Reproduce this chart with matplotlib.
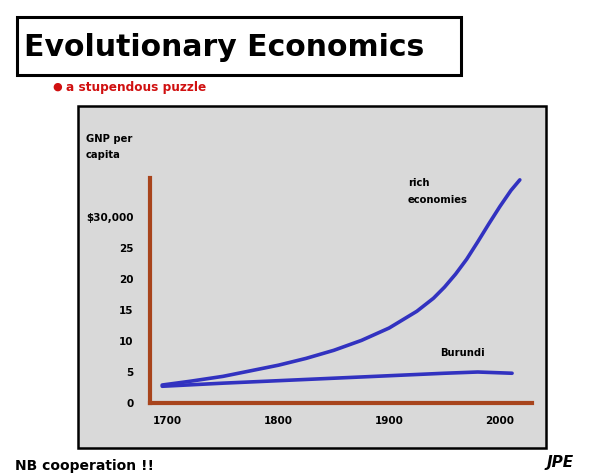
import matplotlib
matplotlib.use("Agg")
import matplotlib.pyplot as plt
from matplotlib.patches import Rectangle

# --- Colours ---
AXIS_BROWN = "#a8441c"
CURVE_BLUE = "#3232c0"
PANEL_GREY = "#d9d9d9"
TEXT_RED = "#d01010"

# --- Data ---
rich_years = [1695, 1720, 1750, 1775, 1800, 1825, 1850, 1875, 1900, 1925, 1940,
              1950, 1960, 1970, 1980, 1990, 2000, 2010, 2018]
rich_gnp = [2.9, 3.5, 4.3, 5.2, 6.1, 7.2, 8.5, 10.1, 12.1, 14.8, 16.9,
            18.7, 20.8, 23.2, 26.0, 28.9, 31.7, 34.3, 36.0]

burundi_years = [1695, 1750, 1800, 1850, 1900, 1950, 1980, 2011]
burundi_gnp = [2.7, 3.2, 3.6, 4.0, 4.4, 4.8, 5.0, 4.8]

x_ticks = [1700, 1800, 1900, 2000]
y_ticks = [0, 5, 10, 15, 20, 25, 30]
y_tick_labels = ["0", "5", "10", "15", "20", "25", "$30,000"]

W, H = 592, 475
fig = plt.figure(figsize=(W / 100, H / 100), dpi=100)


def fx(px):
    return px / W


def fy(py):
    return 1 - py / H


# title box
fig.patches.append(Rectangle((fx(17), fy(75)), fx(461) - fx(17), fy(17) - fy(75),
                             transform=fig.transFigure, fill=False,
                             edgecolor="black", linewidth=2.2, zorder=-1))
fig.text(fx(24), fy(47), "Evolutionary Economics", fontsize=21.5, fontweight="bold",
         ha="left", va="center")

# subtitle
fig.text(fx(57), fy(87), "\u25CF", color=TEXT_RED, fontsize=8, ha="center", va="center")
fig.text(fx(66), fy(87), "a stupendous puzzle", color=TEXT_RED, fontsize=8.7,
         fontweight="bold", ha="left", va="center")

# grey panel behind the chart
fig.patches.append(Rectangle((fx(78), fy(448)), fx(546) - fx(78), fy(106) - fy(448),
                             transform=fig.transFigure, facecolor=PANEL_GREY,
                             edgecolor="black", linewidth=1.8, zorder=-1))

# chart axes
ax = fig.add_axes([fx(150), fy(403), fx(532) - fx(150), fy(178) - fy(403)])
ax.set_zorder(2)
ax.patch.set_visible(False)
ax.plot(rich_years, rich_gnp, color=CURVE_BLUE, linewidth=2.6, solid_capstyle="round")
ax.plot(burundi_years, burundi_gnp, color=CURVE_BLUE, linewidth=2.6, solid_capstyle="round")

ax.set_xlim(1684, 2029)
ax.set_ylim(0, 36.3)
for side in ["top", "right"]:
    ax.spines[side].set_visible(False)
for side in ["left", "bottom"]:
    ax.spines[side].set_color(AXIS_BROWN)
    ax.spines[side].set_linewidth(3)

ax.set_xticks(x_ticks)
ax.set_xticklabels([str(y) for y in x_ticks], fontsize=7.5, fontweight="bold")
ax.set_yticks(y_ticks)
ax.set_yticklabels(y_tick_labels, fontsize=7.5, fontweight="bold")
ax.tick_params(axis="x", length=0, pad=9)
ax.tick_params(axis="y", length=0, pad=12)

fig.text(fx(86), fy(147), "GNP per\ncapita", fontsize=7.2, fontweight="bold",
         ha="left", va="center", linespacing=1.7)
ax.text(1917, 34.1, "rich\neconomies", fontsize=7.2, fontweight="bold",
        ha="left", va="center", linespacing=1.8)
ax.text(1946, 8.1, "Burundi", fontsize=7.2, fontweight="bold", ha="left", va="center")

# footer
fig.text(fx(15), fy(466), "NB cooperation !!", fontsize=10, fontweight="bold",
         ha="left", va="center")
fig.text(fx(547), fy(462), "JPE", fontsize=11, fontweight="bold", style="italic",
         ha="left", va="center")

fig.savefig("out.png", dpi=100)
